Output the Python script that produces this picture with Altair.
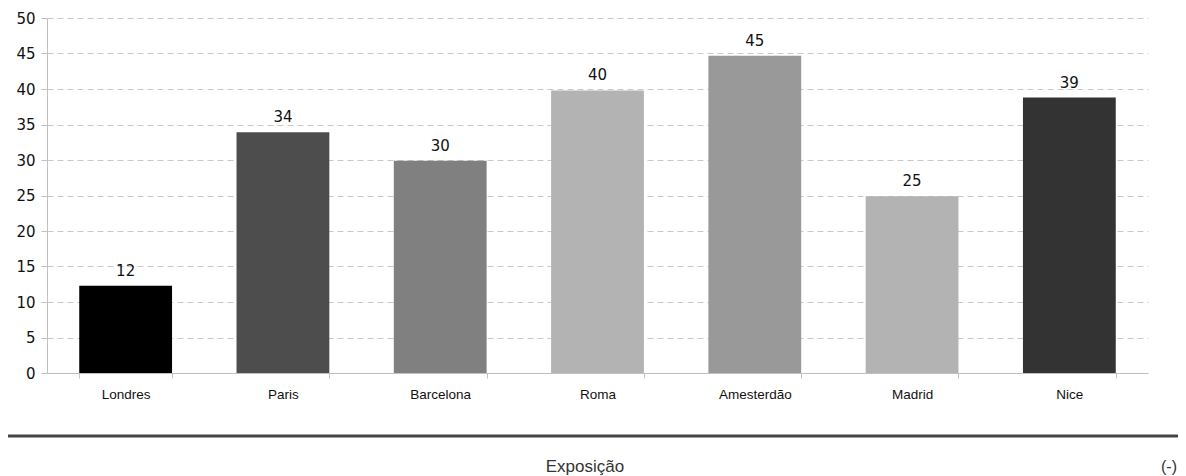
import altair as alt
import pandas as pd

cities = ["Londres", "Paris", "Barcelona", "Roma", "Amesterdão", "Madrid", "Nice"]
values = [12.3, 33.9, 29.9, 39.8, 44.7, 24.9, 38.8]
labels = ["12", "34", "30", "40", "45", "25", "39"]
colors = ["#000000", "#4d4d4d", "#808080", "#b3b3b3", "#999999", "#b3b3b3", "#333333"]
y_ticks = [0, 5, 10, 15, 20, 25, 30, 35, 40, 45, 50]

df = pd.DataFrame({"city": cities, "value": values, "label": labels, "color": colors})

W, H = 1101, 355
PL, PT = 39, 10
TOTAL_W, TOTAL_H = 1170, 468

x = alt.X("city:N", sort=cities, title=None,
          scale=alt.Scale(paddingInner=0.41, paddingOuter=0.205),
          axis=alt.Axis(labelAngle=0, labelFont="Liberation Sans", labelFontSize=13.5,
                        labelColor="#111", labelPadding=9, tickBand="extent",
                        tickSize=5, tickColor="#c0c0c0", domainColor="#c0c0c0",
                        grid=False, labelOverlap=False))
y = alt.Y("value:Q", title=None,
          scale=alt.Scale(domain=[0, 50], nice=False),
          axis=alt.Axis(values=y_ticks, labelFont="DejaVu Sans", labelOverlap=False,
                        labelFontSize=15, labelColor="#111", tickSize=6,
                        labelPadding=6, tickColor="#c0c0c0", domainColor="#c0c0c0",
                        gridColor="#c8c8c8", gridDash=[6, 4], gridWidth=1))

base = alt.Chart(df)
bars = base.mark_bar().encode(x=x, y=y, color=alt.Color("color:N", scale=None))
text = base.mark_text(baseline="alphabetic", dy=-10, font="DejaVu Sans", fontSize=15,
                      color="#111").encode(x=x, y=y, text="label:N")

line = alt.Chart(pd.DataFrame({"a": [0]})).mark_rule(color="#444", strokeWidth=3).encode(
    x=alt.value(-PL - 8), x2=alt.value(1186 - 8 - PL), y=alt.value(436 - 8 - PT))
t1 = alt.Chart(pd.DataFrame({"t": ["Exposição"]})).mark_text(
    font="Liberation Sans", fontSize=17, color="#333", align="center", baseline="middle").encode(
    x=alt.value(585 - 8 - PL), y=alt.value(467 - 8 - PT), text="t:N")
t2 = alt.Chart(pd.DataFrame({"t": ["(-)"]})).mark_text(
    font="Liberation Sans", fontSize=16, color="#333", align="right", baseline="middle").encode(
    x=alt.value(1177 - 8 - PL), y=alt.value(467 - 8 - PT), text="t:N")

chart = alt.layer(bars, text, line, t1, t2).properties(
    width=W, height=H,
    autosize=alt.AutoSizeParams(type="none"),
    padding={"left": PL, "top": PT, "right": TOTAL_W - PL - W, "bottom": TOTAL_H - PT - H},
).configure_view(stroke=None)

chart.save("out.html", embed_options={"renderer": "svg", "actions": False})
